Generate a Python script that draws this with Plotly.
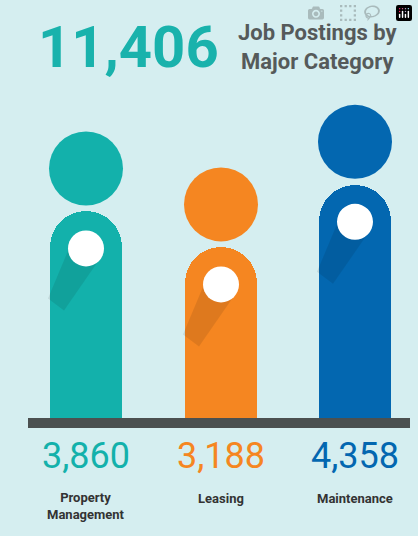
import plotly.graph_objects as go

categories = ["Property<br>Management", "Leasing", "Maintenance"]
values = [3860, 3188, 4358]
value_labels = ["3,860", "3,188", "4,358"]
colors = ["#13b1ab", "#f58621", "#0367b0"]
total_label = "11,406"

W, H = 418, 536
base_px = 418          # pixel row of baseline
k = 0.0535             # pixels per posting
xs = [86, 221, 355]
bar_w = 72
FONT = "Roboto"

y_lo = -(H - base_px) / k
y_hi = base_px / k


def py(p):
    # pixel row from top -> y data value
    return (base_px - p) / k


fig = go.Figure()
fig.add_trace(go.Bar(
    x=xs, y=values, width=bar_w, marker=dict(color=colors, cornerradius=36, line=dict(width=0)),
    hoverinfo="skip", showlegend=False))

shapes = []
for x, v, c in zip(xs, values, colors):
    r = 37
    cy = v + 43 / k
    shapes.append(dict(type="circle", xref="x", yref="y", x0=x - r, x1=x + r,
                       y0=cy - r / k, y1=cy + r / k, fillcolor=c, line_width=0))
    wy = v - 37 / k
    shapes.append(dict(type="path", xref="x", yref="y",
                       path=f"M {x-12} {wy + 12/k} L {x+14} {wy - 10/k} L {x-22} {wy - 62/k} L {x-38} {wy - 50/k} Z",
                       fillcolor="rgba(0,0,0,0.09)", line_width=0))
    rw = 18
    shapes.append(dict(type="circle", xref="x", yref="y", x0=x - rw, x1=x + rw,
                       y0=wy - rw / k, y1=wy + rw / k, fillcolor="white", line_width=0))

shapes.append(dict(type="rect", xref="x", yref="y", x0=28, x1=410, y0=-10 / k, y1=0,
                   fillcolor="#4b5050", line_width=0))

ann = [
    dict(x=128, y=py(47), xref="x", yref="y", text=f"<b>{total_label}</b>", showarrow=False,
         font=dict(size=58, color="#19b2ac", family=FONT)),
    dict(x=318, y=py(47), xref="x", yref="y", text="<b>Job Postings by<br>Major Category</b>",
         showarrow=False, align="center",
         font=dict(size=22, color="#555a5a", family=FONT)),
]
for x, vl, c, cat in zip(xs, value_labels, colors, categories):
    ann.append(dict(x=x, y=py(456), xref="x", yref="y", text=vl, showarrow=False,
                    font=dict(size=36, color=c, family=FONT)))
    ann.append(dict(x=x, y=py(506 if "<br>" in cat else 498), xref="x", yref="y",
                    text=f"<b>{cat}</b>", showarrow=False,
                    font=dict(size=13, color="#333", family=FONT)))

fig.update_layout(
    width=W, height=H, margin=dict(l=0, r=0, t=0, b=0),
    paper_bgcolor="#d5eef0", plot_bgcolor="#d5eef0",
    xaxis=dict(range=[0, W], visible=False, fixedrange=True),
    yaxis=dict(range=[y_lo, y_hi], visible=False, fixedrange=True),
    shapes=shapes, annotations=ann, bargap=0,
)
fig.write_html("out.html", post_script="document.body.style.margin='0';")
